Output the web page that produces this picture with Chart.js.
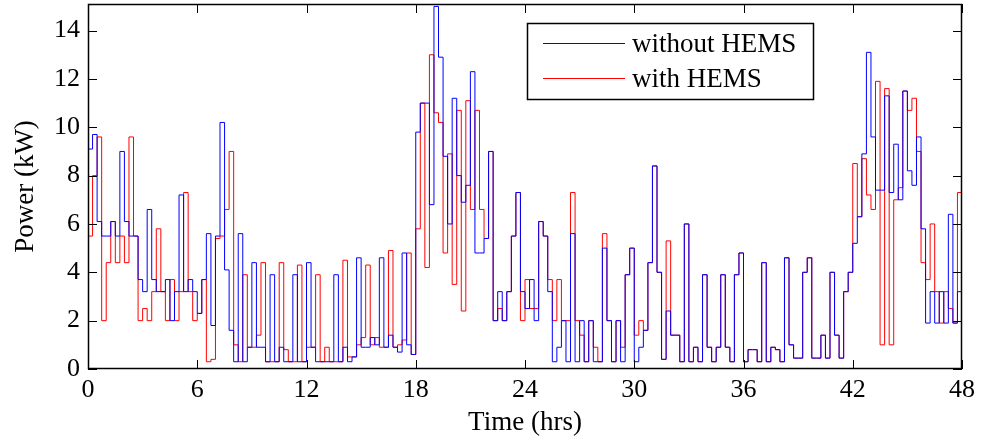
<!DOCTYPE html>
<html>
<head>
<meta charset="utf-8">
<script src="https://cdn.jsdelivr.net/npm/chart.js@4/dist/chart.umd.min.js"></script>
<style>
  html, body { margin: 0; padding: 0; background: #ffffff; }
  #wrap { width: 981px; height: 443px; }
</style>
</head>
<body>
<div id="wrap"><canvas id="c" width="981" height="443"></canvas></div>
<script>
// Household power demand over two days, sampled every 15 minutes (kW)
const stepHours = 0.25;
const xTickValues = [0, 6, 12, 18, 24, 30, 36, 42, 48];
const yTickValues = [0, 2, 4, 6, 8, 10, 12, 14];
const seriesNames = ['without HEMS', 'with HEMS'];

// one row per hour, four quarter-hour values each
const withoutHems = [
  9.1, 9.7, 6.1, 5.5,
  5.5, 6.1, 5.5, 9.0,
  6.1, 5.5, 5.5, 3.7,
  3.2, 6.6, 3.7, 3.2,
  3.2, 3.7, 2.0, 3.2,
  7.2, 3.2, 3.7, 3.2,
  2.3, 3.7, 5.6, 1.8,
  5.5, 10.2, 4.1, 1.6,
  0.3, 5.6, 0.3, 0.9,
  4.4, 0.9, 0.9, 0.3,
  3.9, 0.3, 0.9, 0.3,
  0.3, 3.9, 0.3, 0.3,
  4.4, 0.9, 0.3, 0.3,
  0.3, 0.3, 3.9, 0.3,
  0.9, 0.3, 0.5, 4.6,
  0.9, 0.9, 1.3, 1.0,
  4.6, 0.9, 1.4, 0.9,
  0.7, 4.8, 1.0, 0.6,
  9.8, 11.0, 11.0, 6.8,
  15.0, 12.9, 8.8, 6.0,
  11.2, 8.0, 6.9, 7.6,
  12.3, 4.8, 4.8, 5.4,
  9.0, 2.0, 3.2, 2.0,
  3.2, 5.5, 7.3, 3.2,
  2.5, 3.7, 2.0, 6.1,
  5.5, 3.2, 0.3, 0.9,
  2.0, 0.3, 5.6, 0.3,
  2.0, 0.3, 2.0, 0.3,
  0.3, 5.0, 2.0, 0.3,
  2.0, 0.3, 3.9, 5.0,
  0.3, 0.9, 1.6, 4.4,
  8.4, 4.0, 0.4, 2.4,
  1.4, 1.4, 0.3, 6.0,
  0.3, 0.9, 0.3, 3.9,
  0.9, 0.3, 0.9, 3.9,
  0.9, 0.3, 3.9, 4.8,
  0.3, 0.8, 0.8, 0.3,
  4.4, 0.3, 0.9, 0.8,
  0.3, 4.6, 1.0, 0.45,
  0.45, 4.0, 4.6, 0.45,
  0.45, 1.4, 0.45, 4.0,
  1.4, 0.45, 3.2, 4.0,
  5.2, 6.3, 8.9, 13.1,
  9.6, 7.4, 7.4, 11.3,
  7.3, 9.3, 7.0, 11.5,
  8.2, 7.6, 9.6, 5.8,
  1.9, 3.2, 1.9, 3.2,
  1.9, 6.4, 1.9, 3.2
];

const withHems = [
  5.5, 8.0, 9.6, 2.0,
  4.4, 6.1, 4.4, 5.5,
  4.4, 9.6, 5.5, 2.0,
  2.5, 2.0, 3.2, 5.8,
  3.2, 2.0, 3.7, 2.0,
  3.2, 7.3, 3.2, 2.0,
  2.3, 3.7, 0.3, 0.4,
  5.4, 5.5, 6.6, 9.0,
  1.0, 0.3, 3.9, 0.9,
  0.9, 1.4, 4.4, 0.3,
  0.3, 0.3, 4.4, 0.8,
  0.3, 0.3, 4.3, 0.3,
  0.9, 0.9, 3.9, 0.3,
  0.9, 0.3, 0.3, 0.3,
  4.5, 0.5, 0.5, 1.0,
  1.3, 4.3, 1.0, 1.3,
  0.9, 0.9, 4.9, 0.9,
  1.0, 1.2, 4.8, 0.6,
  5.8, 11.0, 4.2, 13.0,
  10.6, 10.2, 4.8, 8.9,
  3.5, 10.7, 2.4, 11.1,
  6.6, 10.7, 6.6, 5.4,
  9.0, 2.0, 2.5, 2.0,
  3.2, 5.5, 7.3, 2.0,
  3.7, 2.5, 2.5, 6.1,
  5.5, 3.7, 2.0, 3.7,
  2.0, 2.0, 7.3, 2.0,
  1.4, 0.3, 2.0, 0.9,
  0.3, 5.6, 2.0, 0.3,
  2.0, 0.9, 3.9, 5.0,
  1.4, 2.0, 1.6, 4.4,
  8.4, 4.0, 0.4, 5.3,
  1.4, 1.4, 0.3, 6.0,
  0.3, 0.9, 0.3, 3.9,
  0.9, 0.3, 0.9, 3.9,
  0.9, 0.3, 3.9, 4.8,
  0.3, 0.8, 0.8, 0.3,
  4.4, 0.3, 0.9, 0.8,
  0.3, 4.6, 1.0, 0.45,
  0.45, 4.0, 4.6, 0.45,
  0.45, 1.4, 0.45, 4.0,
  1.4, 0.45, 3.2, 4.0,
  8.5, 6.3, 8.7, 7.2,
  6.6, 11.9, 1.0, 11.6,
  1.0, 7.0, 7.5, 11.5,
  10.7, 11.2, 9.0, 4.4,
  3.7, 6.0, 3.2, 1.9,
  3.2, 2.5, 1.9, 7.3
];

// each value holds from its own time stamp to the next one
function stepPoints(values) {
  const pts = values.map((v, i) => ({ x: i * stepHours, y: v }));
  pts.push({ x: values.length * stepHours, y: values[values.length - 1] });
  return pts;
}

const serif = 'Liberation Serif, Times New Roman, serif';

// box round the axes, inward tick marks on all four sides, and the legend
const boxAndLegend = {
  id: 'boxAndLegend',
  afterDatasetsDraw(chart) {
    const { ctx, chartArea: a, scales } = chart;
    const xs = scales.x, ys = scales.y;
    const tickLen = 9;
    ctx.save();
    ctx.strokeStyle = '#000';
    ctx.lineWidth = 1;
    ctx.beginPath();
    xTickValues.forEach(v => {
      const px = Math.round(xs.getPixelForValue(v)) + 0.5;
      ctx.moveTo(px, a.bottom); ctx.lineTo(px, a.bottom - tickLen);
      ctx.moveTo(px, a.top); ctx.lineTo(px, a.top + tickLen);
    });
    yTickValues.forEach(v => {
      const py = Math.round(ys.getPixelForValue(v)) + 0.5;
      ctx.moveTo(a.left, py); ctx.lineTo(a.left + tickLen, py);
      ctx.moveTo(a.right, py); ctx.lineTo(a.right - tickLen, py);
    });
    ctx.stroke();
    ctx.lineWidth = 1.5;
    ctx.strokeRect(Math.round(a.left) + 0.5, Math.round(a.top) + 0.5,
                   Math.round(a.right - a.left) - 1, Math.round(a.bottom - a.top) - 1);

    // legend
    const lx = 527, ly = 23, lw = 286, lh = 76;
    ctx.fillStyle = '#fff';
    ctx.fillRect(lx, ly, lw, lh);
    ctx.lineWidth = 1.5;
    ctx.strokeStyle = '#000';
    ctx.strokeRect(lx + 0.5, ly + 0.5, lw, lh);
    ctx.font = '27px ' + serif;
    ctx.textBaseline = 'middle';
    ctx.textAlign = 'left';
    const rows = [43, 78];
    chart.data.datasets.forEach((ds, i) => {
      ctx.strokeStyle = ds.borderColor;
      ctx.lineWidth = 1;
      ctx.beginPath();
      ctx.moveTo(543, rows[i] + 0.5);
      ctx.lineTo(625, rows[i] + 0.5);
      ctx.stroke();
      ctx.fillStyle = '#000';
      ctx.fillText(ds.label, 632, rows[i] + 2);
    });
    ctx.restore();
  }
};

new Chart(document.getElementById('c'), {
  type: 'line',
  data: {
    datasets: [
      { label: seriesNames[0], data: stepPoints(withoutHems), borderColor: '#0000ff',
        borderWidth: 1, stepped: true, pointRadius: 0, fill: false },
      { label: seriesNames[1], data: stepPoints(withHems), borderColor: '#ff0000',
        borderWidth: 1, stepped: true, pointRadius: 0, fill: false }
    ]
  },
  options: {
    responsive: false,
    devicePixelRatio: 1,
    animation: false,
    layout: { padding: { left: 0, right: 19, top: 4, bottom: 0 } },
    plugins: { legend: { display: false }, tooltip: { enabled: false } },
    scales: {
      x: {
        type: 'linear', min: 0, max: 48,
        afterFit(s) { s.height = 74; s.paddingLeft = 0; s.paddingRight = 0; },
        afterBuildTicks(s) { s.ticks = xTickValues.map(v => ({ value: v })); },
        grid: { display: false, drawTicks: false },
        border: { display: false },
        ticks: { color: '#000', padding: 6, maxRotation: 0, font: { family: serif, size: 26 } },
        title: { display: true, text: 'Time (hrs)', color: '#000',
                 padding: { top: 0, bottom: 4 }, font: { family: serif, size: 27 } }
      },
      y: {
        type: 'linear', min: 0, max: 15.1,
        afterFit(s) { s.width = 88; s.paddingTop = 0; s.paddingBottom = 0; },
        afterBuildTicks(s) { s.ticks = yTickValues.map(v => ({ value: v })); },
        grid: { display: false, drawTicks: false },
        border: { display: false },
        ticks: { color: '#000', padding: 8, font: { family: serif, size: 26 } },
        title: { display: true, text: 'Power (kW)', color: '#000',
                 padding: { top: 10, bottom: 0 }, font: { family: serif, size: 27 } }
      }
    }
  },
  plugins: [boxAndLegend]
});
</script>
</body>
</html>
